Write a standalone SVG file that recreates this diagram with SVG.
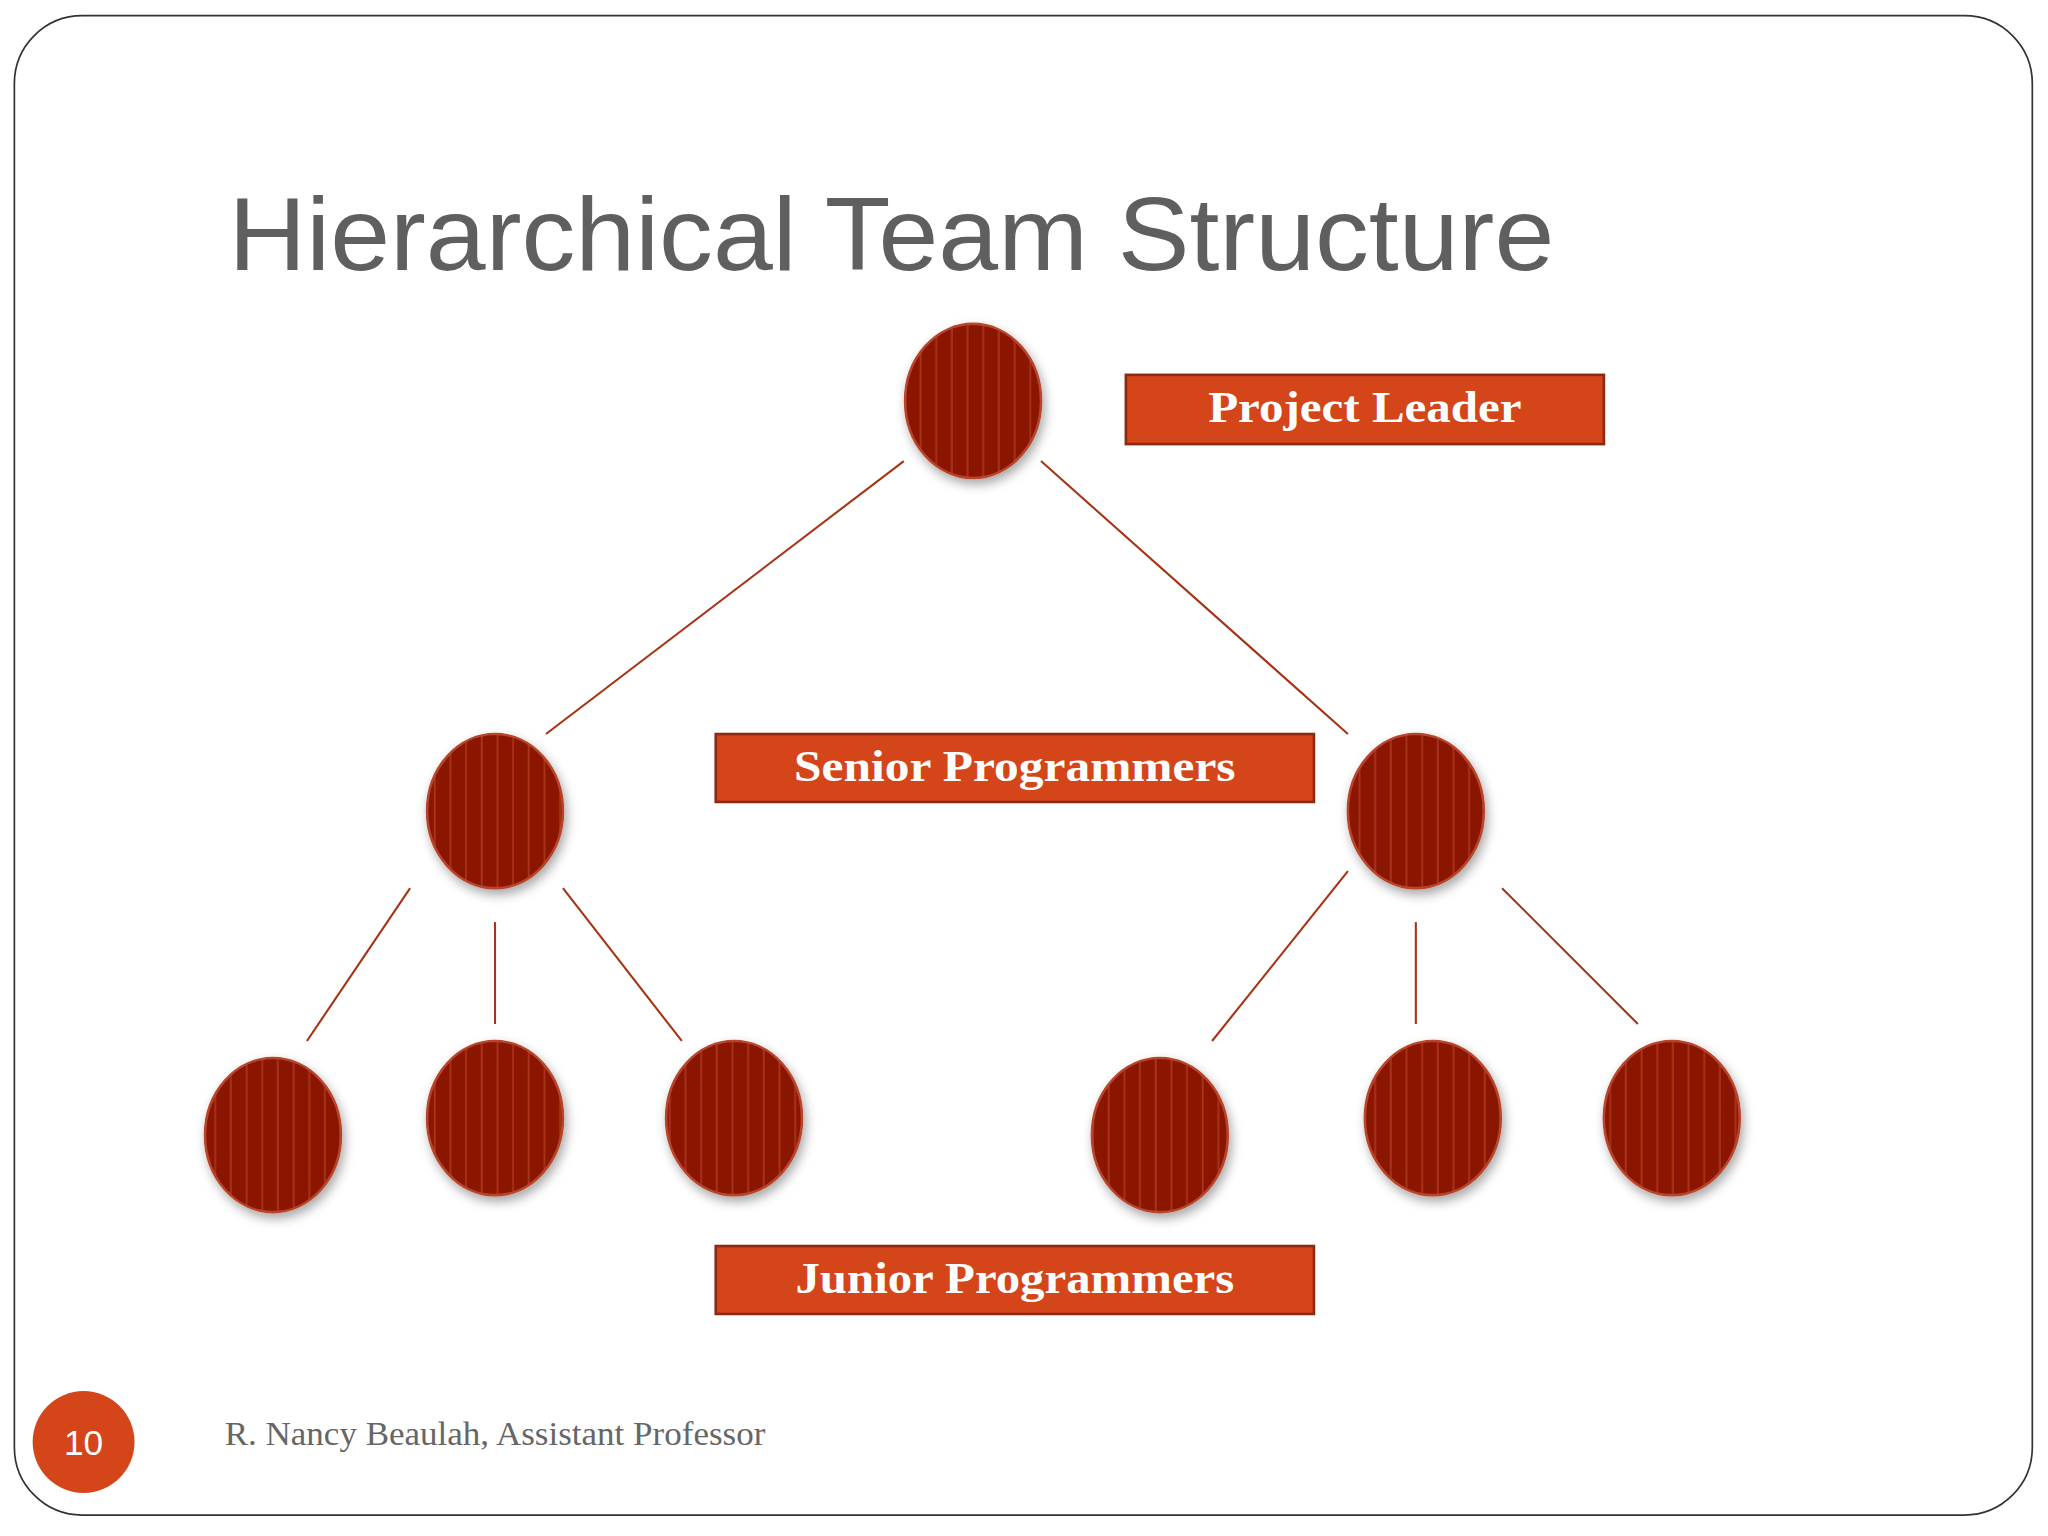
<svg xmlns="http://www.w3.org/2000/svg" width="2048" height="1536" viewBox="0 0 2048 1536">
<defs>
<pattern id="stripes" patternUnits="userSpaceOnUse" width="12" height="10">
<rect width="12" height="10" fill="#8a1200"/>
<rect x="8" width="1.6" height="10" fill="#a8321a"/>
</pattern>
<filter id="sh" x="-30%" y="-30%" width="160%" height="160%">
<feDropShadow dx="2" dy="4" stdDeviation="4" flood-color="#000" flood-opacity="0.35"/>
</filter>
<style>
.n{fill:url(#stripes);stroke:#b8442a;stroke-width:2;filter:url(#sh)}
.c line{stroke:#a83214;stroke-width:1.6}
.box{fill:#d4451a;stroke:#8b2a10;stroke-width:2}
.lbl{font-family:"Liberation Serif",serif;font-weight:bold;font-size:34px;fill:#fff;text-anchor:middle}
</style>
</defs>
<rect width="2048" height="1536" fill="#fff"/>
<g transform="scale(1.30612)">
<rect x="11" y="12" width="1545" height="1148" rx="52" fill="#fff" stroke="#333" stroke-width="1.3"/>
<text x="175" y="207" font-family="Liberation Sans, sans-serif" font-size="80" fill="#5f5f5f" textLength="1015" lengthAdjust="spacingAndGlyphs">Hierarchical Team Structure</text>
<g class="c" id="connectors">
<line x1="692" y1="353" x2="418" y2="562"/>
<line x1="797" y1="353" x2="1032" y2="562"/>
<line x1="314" y1="680" x2="235" y2="797"/>
<line x1="379" y1="706" x2="379" y2="784"/>
<line x1="431" y1="680" x2="522" y2="797"/>
<line x1="1032" y1="667" x2="928" y2="797"/>
<line x1="1084" y1="706" x2="1084" y2="784"/>
<line x1="1150" y1="680" x2="1254" y2="784"/>
</g>
<g id="leader"><ellipse class="n" cx="745" cy="307" rx="52" ry="59"/></g>
<g id="senior1"><ellipse class="n" cx="379" cy="621" rx="52" ry="59"/></g>
<g id="senior2"><ellipse class="n" cx="1084" cy="621" rx="52" ry="59"/></g>
<g id="junior1"><ellipse class="n" cx="209" cy="869" rx="52" ry="59"/></g>
<g id="junior2"><ellipse class="n" cx="379" cy="856" rx="52" ry="59"/></g>
<g id="junior3"><ellipse class="n" cx="562" cy="856" rx="52" ry="59"/></g>
<g id="junior4"><ellipse class="n" cx="888" cy="869" rx="52" ry="59"/></g>
<g id="junior5"><ellipse class="n" cx="1097" cy="856" rx="52" ry="59"/></g>
<g id="junior6"><ellipse class="n" cx="1280" cy="856" rx="52" ry="59"/></g>
<g id="label-leader"><rect class="box" x="862" y="287" width="366" height="53"/><text class="lbl" x="1045" y="323" textLength="240" lengthAdjust="spacingAndGlyphs">Project Leader</text></g>
<g id="label-senior"><rect class="box" x="548" y="562" width="458" height="52"/><text class="lbl" x="777" y="598" textLength="338" lengthAdjust="spacingAndGlyphs">Senior Programmers</text></g>
<g id="label-junior"><rect class="box" x="548" y="954" width="458" height="52"/><text class="lbl" x="777" y="990" textLength="336" lengthAdjust="spacingAndGlyphs">Junior Programmers</text></g>
<g id="footer">
<circle cx="64" cy="1104" r="39" fill="#d4451a"/>
<text x="64" y="1114" font-family="Liberation Sans, sans-serif" font-size="27" fill="#fff" text-anchor="middle">10</text>
<text x="172" y="1106" font-family="Liberation Serif, serif" font-size="25" fill="#666" textLength="414" lengthAdjust="spacingAndGlyphs">R. Nancy Beaulah, Assistant Professor</text>
</g>
</g>
</svg>
